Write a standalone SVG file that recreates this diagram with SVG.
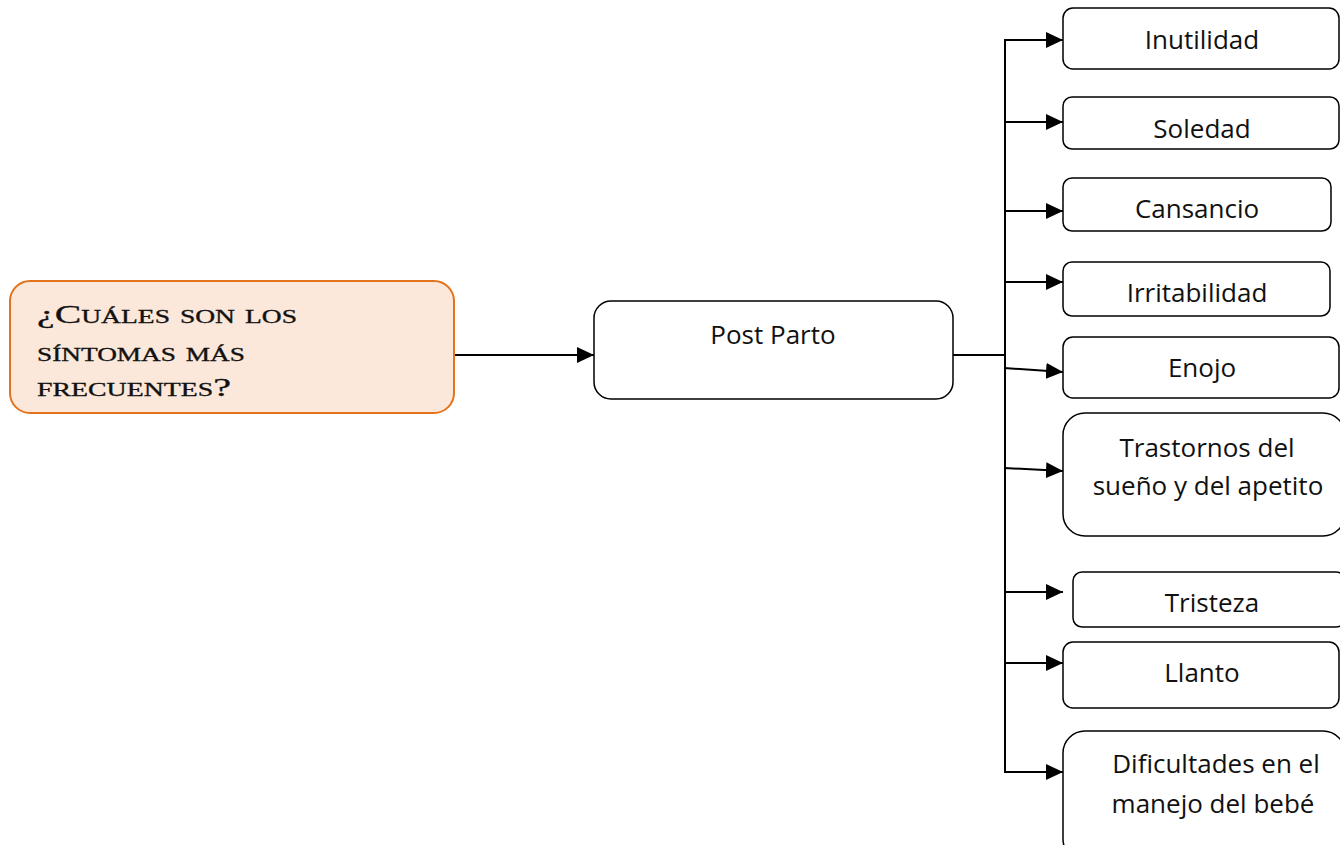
<svg xmlns="http://www.w3.org/2000/svg" width="1340" height="845" viewBox="0 0 1340 845">
  <defs>
    <marker id="arrow" markerUnits="userSpaceOnUse" markerWidth="18" markerHeight="16" refX="17" refY="8" orient="auto">
      <path d="M0,0 L17,8 L0,16 Z" fill="#000"/>
    </marker>
    <style>
      .box { fill: #fff; stroke: #000; stroke-width: 1.5; }
      .question { fill: #fce8da; stroke: #e3731c; stroke-width: 2; }
      .lbl { font-family: "Open Sans", "Noto Sans", sans-serif; font-size: 26px; fill: #111; text-anchor: middle; }
      .qtext { font-family: "Liberation Serif", serif; font-size: 26px; font-variant: small-caps; fill: #111; stroke: #111; stroke-width: 0.3; }
      .link { fill: none; stroke: #000; stroke-width: 2; }
    </style>
  </defs>
  <rect width="1340" height="845" fill="#fff"/>

  <!-- connectors -->
  <g id="connectors">
    <line class="link" x1="454" y1="355" x2="594" y2="355" marker-end="url(#arrow)"/>
    <line class="link" x1="953" y1="355" x2="1005" y2="355"/>
    <line class="link" x1="1005" y1="39" x2="1005" y2="773"/>
    <line class="link" x1="1004" y1="40" x2="1063" y2="40" marker-end="url(#arrow)"/>
    <line class="link" x1="1004" y1="122" x2="1063" y2="122" marker-end="url(#arrow)"/>
    <line class="link" x1="1004" y1="211" x2="1063" y2="211" marker-end="url(#arrow)"/>
    <line class="link" x1="1004" y1="282" x2="1063" y2="282" marker-end="url(#arrow)"/>
    <line class="link" x1="1004" y1="368" x2="1063" y2="372" marker-end="url(#arrow)"/>
    <line class="link" x1="1004" y1="468" x2="1063" y2="471" marker-end="url(#arrow)"/>
    <line class="link" x1="1004" y1="592" x2="1063" y2="592" marker-end="url(#arrow)"/>
    <line class="link" x1="1004" y1="663" x2="1063" y2="663" marker-end="url(#arrow)"/>
    <line class="link" x1="1004" y1="772" x2="1063" y2="772" marker-end="url(#arrow)"/>
  </g>

  <!-- question -->
  <g id="question">
    <rect class="question" x="10" y="281" width="444" height="132" rx="20"/>
    <text class="qtext" x="37" y="323" textLength="260" lengthAdjust="spacingAndGlyphs">¿Cuáles son los</text>
    <text class="qtext" x="37" y="361" textLength="208" lengthAdjust="spacingAndGlyphs">síntomas más</text>
    <text class="qtext" x="37" y="396" textLength="194" lengthAdjust="spacingAndGlyphs">frecuentes?</text>
  </g>

  <!-- central node -->
  <g id="post-parto">
    <rect class="box" x="594" y="301" width="359" height="98" rx="17"/>
    <text class="lbl" x="773" y="344">Post Parto</text>
  </g>

  <!-- symptoms -->
  <g id="inutilidad">
    <rect class="box" x="1063" y="8" width="276" height="61" rx="10"/>
    <text class="lbl" x="1202" y="49">Inutilidad</text>
  </g>
  <g id="soledad">
    <rect class="box" x="1063" y="97" width="276" height="52" rx="9"/>
    <text class="lbl" x="1202" y="138">Soledad</text>
  </g>
  <g id="cansancio">
    <rect class="box" x="1063" y="178" width="268" height="53" rx="9"/>
    <text class="lbl" x="1197" y="218">Cansancio</text>
  </g>
  <g id="irritabilidad">
    <rect class="box" x="1063" y="262" width="267" height="54" rx="9"/>
    <text class="lbl" x="1197" y="302">Irritabilidad</text>
  </g>
  <g id="enojo">
    <rect class="box" x="1063" y="337" width="276" height="61" rx="10"/>
    <text class="lbl" x="1202" y="377">Enojo</text>
  </g>
  <g id="trastornos">
    <rect class="box" x="1063" y="413" width="282" height="123" rx="22"/>
    <text class="lbl" x="1207" y="457">Trastornos del</text>
    <text class="lbl" x="1208" y="495">sueño y del apetito</text>
  </g>
  <g id="tristeza">
    <rect class="box" x="1073" y="572" width="272" height="55" rx="9"/>
    <text class="lbl" x="1212" y="612">Tristeza</text>
  </g>
  <g id="llanto">
    <rect class="box" x="1063" y="642" width="276" height="66" rx="10"/>
    <text class="lbl" x="1202" y="682">Llanto</text>
  </g>
  <g id="dificultades">
    <rect class="box" x="1063" y="731" width="282" height="130" rx="22"/>
    <text class="lbl" x="1216" y="773">Dificultades en el</text>
    <text class="lbl" x="1213" y="813">manejo del bebé</text>
  </g>
</svg>
